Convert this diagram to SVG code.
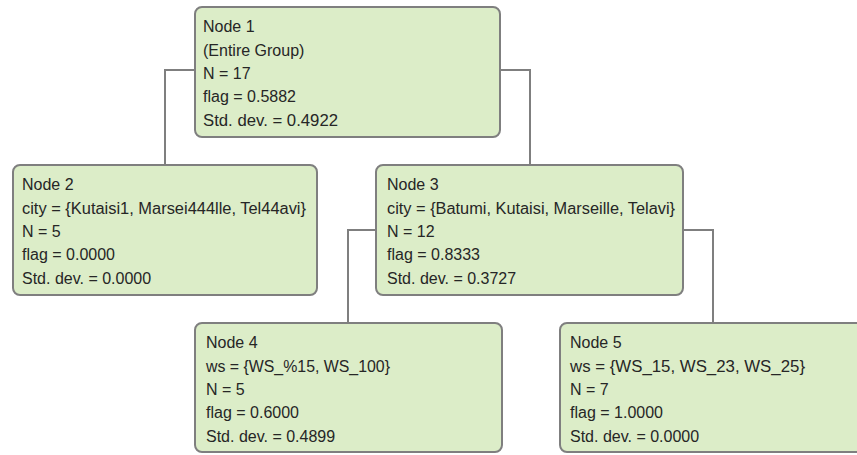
<svg xmlns="http://www.w3.org/2000/svg" width="857" height="455" viewBox="0 0 857 455">
<style>
.box{fill:#dcedc8;stroke:#7f7f7f;stroke-width:2}
.conn{fill:none;stroke:#7f7f7f;stroke-width:2}
text{font-family:"Liberation Sans",Arial,sans-serif;font-size:16px;fill:#262626}
</style>
<rect width="857" height="455" fill="#ffffff"/>
<g id="connectors">
<path class="conn" d="M195,70 H165 V165"/>
<path class="conn" d="M500,70 H530 V165"/>
<path class="conn" d="M376,230 H348 V323"/>
<path class="conn" d="M683,230 H713 V323"/>
</g>
<g id="node1">
<rect class="box" x="195" y="7" width="305" height="130" rx="7"/>
<text x="203" y="32">Node 1</text>
<text x="203" y="55.5">(Entire Group)</text>
<text x="203" y="79">N = 17</text>
<text x="203" y="102">flag = 0.5882</text>
<text x="203" y="125.5" textLength="135" lengthAdjust="spacingAndGlyphs">Std. dev. = 0.4922</text>
</g>
<g id="node2">
<rect class="box" x="13" y="165" width="304" height="130" rx="7"/>
<text x="22" y="190">Node 2</text>
<text x="22" y="213.5" textLength="284" lengthAdjust="spacingAndGlyphs">city = {Kutaisi1, Marsei444lle, Tel44avi}</text>
<text x="22" y="237">N = 5</text>
<text x="22" y="260">flag = 0.0000</text>
<text x="22" y="283.5">Std. dev. = 0.0000</text>
</g>
<g id="node3">
<rect class="box" x="376" y="165" width="307" height="130" rx="7"/>
<text x="387" y="190">Node 3</text>
<text x="387" y="213.5" textLength="288" lengthAdjust="spacingAndGlyphs">city = {Batumi, Kutaisi, Marseille, Telavi}</text>
<text x="387" y="237">N = 12</text>
<text x="387" y="260">flag = 0.8333</text>
<text x="387" y="283.5">Std. dev. = 0.3727</text>
</g>
<g id="node4">
<rect class="box" x="195" y="323" width="307" height="129" rx="7"/>
<text x="206" y="348">Node 4</text>
<text x="206" y="371.5" textLength="184" lengthAdjust="spacingAndGlyphs">ws = {WS_%15, WS_100}</text>
<text x="206" y="395">N = 5</text>
<text x="206" y="418">flag = 0.6000</text>
<text x="206" y="441.5">Std. dev. = 0.4899</text>
</g>
<g id="node5">
<rect class="box" x="560" y="323" width="310" height="129" rx="7"/>
<text x="570" y="348">Node 5</text>
<text x="570" y="371.5" textLength="235" lengthAdjust="spacingAndGlyphs">ws = {WS_15, WS_23, WS_25}</text>
<text x="570" y="395">N = 7</text>
<text x="570" y="418">flag = 1.0000</text>
<text x="570" y="441.5">Std. dev. = 0.0000</text>
</g>
</svg>
